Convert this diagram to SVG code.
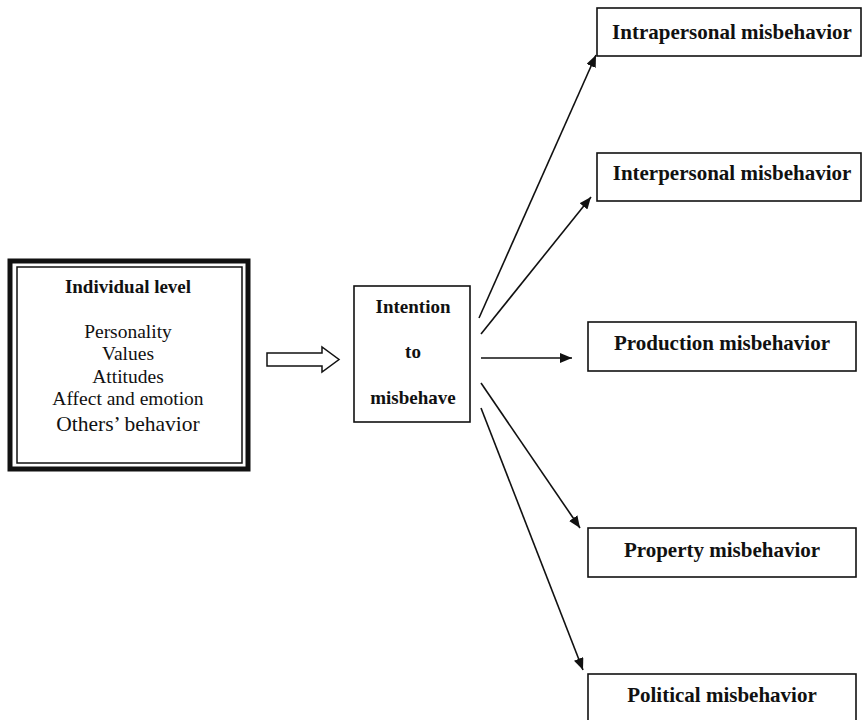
<svg xmlns="http://www.w3.org/2000/svg" width="864" height="720" viewBox="0 0 864 720">
<defs>
<style>
.box{fill:#fff;stroke:#111;stroke-width:1.6}
.t{font-family:"Liberation Serif","Times New Roman",serif;fill:#111;text-anchor:middle}
.b{font-weight:bold}
.c{stroke:#111;stroke-width:1.6;fill:none}
</style>
<marker id="ah" viewBox="0 0 12 10" refX="12" refY="5" markerWidth="12" markerHeight="10" markerUnits="userSpaceOnUse" orient="auto">
<path d="M0,0 L12,5 L0,10 Z" fill="#111"/>
</marker>
</defs>
<rect width="864" height="720" fill="#fff"/>
<g id="individual">
<rect x="10" y="261" width="238" height="208" fill="#fff" stroke="#111" stroke-width="5"/>
<rect x="17" y="267" width="225" height="196" fill="none" stroke="#111" stroke-width="1.5"/>
<text class="t b" x="128" y="293" font-size="19">Individual level</text>
<text class="t" x="128" y="338" font-size="19.5">Personality</text>
<text class="t" x="128" y="360" font-size="19.5">Values</text>
<text class="t" x="128" y="383" font-size="19.5">Attitudes</text>
<text class="t" x="128" y="405" font-size="19.5">Affect and emotion</text>
<text class="t" x="128" y="431" font-size="21.5">Others’ behavior</text>
</g>
<g id="intention">
<rect class="box" x="354" y="286" width="116" height="136"/>
<text class="t b" x="413" y="313" font-size="19">Intention</text>
<text class="t b" x="413" y="358" font-size="19">to</text>
<text class="t b" x="413" y="404" font-size="19">misbehave</text>
</g>
<g id="intrapersonal">
<rect class="box" x="597" y="8" width="264" height="48"/>
<text class="t b" x="732" y="39" font-size="21">Intrapersonal misbehavior</text>
</g>
<g id="interpersonal">
<rect class="box" x="597" y="153" width="264" height="48"/>
<text class="t b" x="732" y="180" font-size="21">Interpersonal misbehavior</text>
</g>
<g id="production">
<rect class="box" x="588" y="322" width="268" height="49"/>
<text class="t b" x="722" y="350" font-size="21">Production misbehavior</text>
</g>
<g id="property">
<rect class="box" x="588" y="528" width="268" height="49"/>
<text class="t b" x="722" y="557" font-size="21">Property misbehavior</text>
</g>
<g id="political">
<rect class="box" x="588" y="674" width="268" height="50"/>
<text class="t b" x="722" y="702" font-size="21">Political misbehavior</text>
</g>
<g id="connectors">
<path d="M267,353 H322 V347 L339,359.5 L322,372 V366 H267 Z" fill="#fff" stroke="#111" stroke-width="1.5"/>
<line class="c" x1="479" y1="318" x2="596" y2="55" marker-end="url(#ah)"/>
<line class="c" x1="481" y1="334" x2="591" y2="197" marker-end="url(#ah)"/>
<line class="c" x1="481" y1="358" x2="572" y2="358" marker-end="url(#ah)"/>
<line class="c" x1="481" y1="383" x2="580" y2="528" marker-end="url(#ah)"/>
<line class="c" x1="481" y1="408" x2="583" y2="670" marker-end="url(#ah)"/>
</g>
</svg>
